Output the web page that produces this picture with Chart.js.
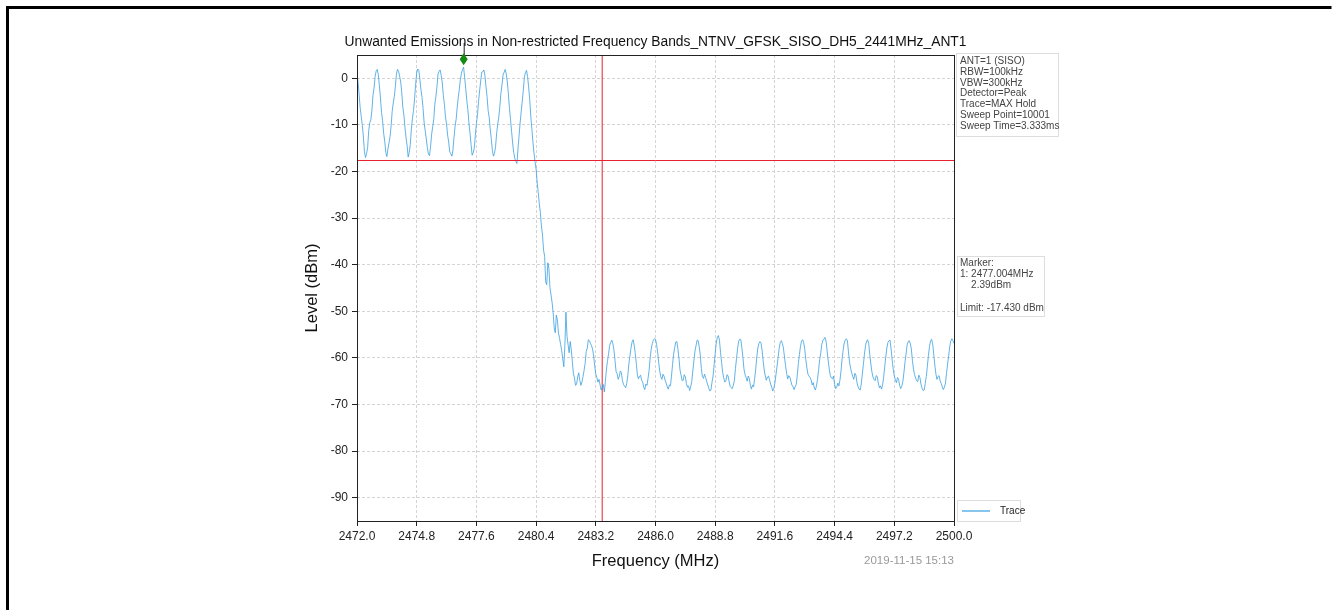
<!DOCTYPE html>
<html>
<head>
<meta charset="utf-8">
<script src="https://cdn.jsdelivr.net/npm/chart.js@4.4.1/dist/chart.umd.min.js"></script>
<style>
  html, body { margin: 0; padding: 0; background: #fff; }
  #wrap { width: 1338px; height: 610px; position: relative; }
</style>
</head>
<body>
<div id="wrap"><canvas id="spec" width="1338" height="610"></canvas></div>
<script>
// sweep grid
const freqStart = 2472.0;
const freqStep = 0.05;

// trace levels (dBm), one row per MHz: x.00 .. x.95
const levelRows = [
  [1.2, -0.9, -3.5, -6.4, -8.2, -10.1, -12.6, -15.8, -17.0, -16.1, -14.8, -11.2, -9.5, -8.9, -6.8, -3.6, -2.1, 0.4, 1.6, 1.9],          // 2472
  [0.8, -1.6, -4.2, -7.3, -9.1, -11.8, -13.5, -15.9, -16.8, -15.2, -13.9, -12.5, -10.2, -7.1, -5.3, -3.9, -1.7, 0.9, 1.9, 1.5],        // 2473
  [0.4, -0.8, -3.1, -6.2, -7.9, -10.6, -12.8, -14.4, -16.9, -15.9, -14.2, -10.9, -8.6, -6.9, -4.4, -1.3, 1.2, 2.0, 1.7, -0.3],         // 2474
  [-2.4, -4.1, -6.5, -9.6, -11.3, -13.0, -14.9, -16.3, -16.6, -14.7, -12.0, -10.4, -8.8, -5.6, -3.9, -1.8, 0.9, 1.5, 1.8, 0.6],        // 2475
  [-1.0, -3.7, -5.6, -8.3, -9.8, -12.2, -13.7, -15.8, -16.2, -16.7, -15.4, -12.7, -10.3, -8.8, -6.2, -4.1, -2.3, -0.2, 1.1, 1.9],      // 2476
  [2.39, 0.1, -2.2, -4.8, -6.7, -9.6, -11.8, -14.2, -16.5, -16.0, -15.0, -12.2, -9.7, -7.9, -5.0, -2.7, -0.6, 1.3, 1.4, 1.8],          // 2477
  [0.6, -1.8, -3.9, -6.9, -8.4, -11.0, -13.1, -15.5, -16.7, -16.1, -14.6, -11.8, -9.9, -8.3, -6.1, -3.2, -1.4, 0.7, 1.3, 1.9],         // 2478
  [0.9, -0.8, -3.3, -6.5, -8.8, -11.4, -13.9, -15.9, -17.2, -17.8, -18.3, -15.2, -12.4, -9.6, -7.2, -4.9, -2.6, 0.2, 1.2, 1.7],        // 2479
  [0.4, -1.9, -4.5, -8.1, -10.8, -13.6, -16.0, -17.9, -19.5, -22.3, -24.5, -26.9, -28.8, -31.7, -33.6, -36.9, -38.2, -43.7, -44.3, -39.6], // 2480
  [-40.8, -44.9, -46.5, -48.1, -50.3, -53.6, -54.6, -50.8, -51.9, -54.7, -55.8, -57.1, -58.4, -60.2, -61.9, -57.3, -50.2, -55.4, -57.2, -58.9], // 2481
  [-56.5, -58.2, -60.8, -63.4, -64.3, -65.9, -65.6, -64.1, -63.2, -64.8, -65.9, -65.2, -64.0, -62.7, -61.2, -58.6, -57.9, -56.1, -56.3, -56.9], // 2482
  [-57.4, -58.1, -59.6, -61.8, -63.5, -64.2, -65.2, -64.6, -65.8, -66.9, -66.4, -65.7, -67.3, -65.0, -62.4, -60.6, -59.1, -57.3, -56.7, -56.2], // 2483
  [-56.9, -58.3, -60.5, -62.9, -63.4, -64.6, -64.0, -62.8, -63.2, -64.9, -65.7, -66.1, -66.4, -65.5, -63.8, -61.3, -59.6, -57.9, -56.6, -56.1], // 2484
  [-57.3, -59.0, -61.2, -63.7, -64.5, -63.9, -63.7, -64.8, -65.2, -66.3, -66.8, -65.6, -65.9, -64.4, -62.7, -60.0, -58.1, -56.9, -56.2, -55.9], // 2485
  [-56.0, -57.1, -58.7, -61.0, -62.9, -64.1, -64.6, -63.5, -63.9, -64.8, -65.4, -66.2, -66.7, -65.8, -66.0, -63.9, -61.4, -59.2, -57.8, -56.6], // 2486
  [-56.5, -58.0, -60.1, -62.6, -63.7, -64.9, -64.8, -63.6, -64.1, -65.5, -66.3, -66.0, -67.0, -66.2, -65.1, -62.8, -60.7, -58.6, -57.4, -56.2], // 2487
  [-56.3, -57.6, -59.4, -62.3, -64.0, -64.4, -63.5, -64.2, -65.0, -65.8, -66.5, -67.1, -66.9, -65.2, -63.9, -61.5, -59.0, -56.8, -55.6, -55.2], // 2488
  [-56.2, -58.8, -61.0, -63.1, -64.3, -65.2, -64.9, -63.6, -63.8, -65.0, -66.1, -66.4, -66.6, -65.9, -64.8, -62.3, -60.1, -58.0, -56.4, -56.0], // 2489
  [-56.1, -57.8, -59.9, -62.4, -63.6, -64.2, -65.0, -63.9, -64.4, -65.9, -66.7, -65.8, -66.2, -64.4, -62.5, -59.8, -57.9, -56.9, -56.5, -56.8], // 2490
  [-58.4, -60.7, -62.6, -63.9, -64.8, -64.1, -63.9, -64.7, -65.6, -66.3, -67.1, -66.5, -65.4, -63.6, -61.8, -59.9, -58.0, -56.7, -56.3, -56.9], // 2491
  [-57.9, -59.8, -61.7, -63.3, -64.5, -63.8, -64.1, -65.0, -65.9, -66.1, -66.8, -66.2, -65.7, -63.7, -61.2, -59.3, -57.5, -56.4, -56.1, -56.7], // 2492
  [-58.2, -60.4, -62.1, -63.5, -63.9, -64.2, -64.7, -65.8, -65.3, -66.5, -66.9, -66.0, -64.6, -62.5, -60.4, -58.9, -57.1, -56.2, -56.0, -55.6], // 2493
  [-56.4, -58.5, -60.6, -62.4, -63.8, -64.3, -64.5, -63.9, -65.7, -66.6, -66.3, -65.4, -66.0, -64.8, -62.9, -60.2, -58.4, -56.8, -56.2, -55.9], // 2494
  [-56.3, -58.7, -60.9, -62.2, -63.2, -64.0, -64.6, -63.3, -63.7, -65.3, -66.2, -66.7, -66.9, -65.6, -63.5, -61.4, -59.2, -57.4, -56.4, -56.1], // 2495
  [-56.9, -59.3, -61.3, -63.0, -64.1, -64.6, -64.9, -63.8, -64.0, -65.4, -66.4, -66.0, -66.7, -65.8, -64.2, -61.9, -59.8, -57.9, -56.7, -56.3], // 2496
  [-56.2, -58.1, -60.4, -62.5, -63.9, -64.7, -65.3, -64.2, -64.6, -65.9, -66.6, -66.1, -65.1, -63.2, -61.0, -59.2, -57.3, -56.5, -56.3, -56.9], // 2497
  [-58.1, -60.6, -62.4, -63.6, -64.3, -64.9, -65.1, -63.7, -64.2, -65.6, -66.5, -67.0, -66.9, -65.5, -64.0, -61.8, -59.5, -57.6, -56.4, -56.0], // 2498
  [-57.0, -59.2, -61.5, -63.4, -64.6, -64.0, -63.8, -64.9, -65.5, -66.2, -66.8, -66.3, -65.4, -63.3, -61.3, -59.5, -57.6, -56.4, -55.9, -56.3], // 2499
  [-56.9]                                                                                                                                      // 2500.00
];

const xTicks = [2472.0, 2474.8, 2477.6, 2480.4, 2483.2, 2486.0, 2488.8, 2491.6, 2494.4, 2497.2, 2500.0];
const yTicks = [0, -10, -20, -30, -40, -50, -60, -70, -80, -90];

const limitLevel = -17.43;
const bandEdge = 2483.5;
const markerFreq = 2477.004;
const markerLevel = 2.39;

const titleText = 'Unwanted Emissions in Non-restricted Frequency Bands_NTNV_GFSK_SISO_DH5_2441MHz_ANT1';
const infoLines = ['ANT=1 (SISO)', 'RBW=100kHz', 'VBW=300kHz', 'Detector=Peak', 'Trace=MAX Hold', 'Sweep Point=10001', 'Sweep Time=3.333ms'];
const markerLines = ['Marker:', '1: 2477.004MHz', '    2.39dBm', '', 'Limit: -17.430 dBm'];
const stampText = '2019-11-15 15:13';

const FONT = "'Liberation Sans', Arial, Helvetica, sans-serif";
const traceColor = '#3a9fe0';
const redColor = '#e8202f';

// build points
const levels = levelRows.flat();
const tracePts = levels.map((v, i) => ({ x: +(freqStart + i * freqStep).toFixed(2), y: v }));

const decor = {
  id: 'decor',
  afterDatasetsDraw(chart) {
    const ctx = chart.ctx;
    const a = chart.chartArea;
    const ys = chart.scales.y;
    // limit line (red, full width)
    const ly = Math.round(ys.getPixelForValue(limitLevel)) + 0.5;
    ctx.save();
    ctx.strokeStyle = redColor;
    ctx.lineWidth = 1;
    ctx.beginPath();
    ctx.moveTo(a.left, ly);
    ctx.lineTo(a.right, ly);
    ctx.stroke();
    ctx.restore();
  },
  afterDraw(chart) {
    const ctx = chart.ctx;
    const a = chart.chartArea;
    const xs = chart.scales.x, ys = chart.scales.y;
    ctx.save();

    // page frame
    ctx.strokeStyle = '#000';
    ctx.lineWidth = 3;
    ctx.beginPath();
    ctx.moveTo(7.5, 612);
    ctx.lineTo(7.5, 7.5);
    ctx.lineTo(1331.5, 7.5);
    ctx.stroke();

    // plot frame
    ctx.strokeStyle = '#222';
    ctx.lineWidth = 1;
    ctx.strokeRect(a.left + 0.5, a.top + 0.5, a.right - a.left, a.bottom - a.top);

    // marker
    const mx = xs.getPixelForValue(markerFreq);
    const my = ys.getPixelForValue(markerLevel) - 8;
    ctx.strokeStyle = '#222';
    ctx.beginPath();
    ctx.moveTo(mx + 0.5, a.top - 12);
    ctx.lineTo(mx + 0.5, my - 4);
    ctx.stroke();
    ctx.fillStyle = '#138a13';
    ctx.beginPath();
    ctx.moveTo(mx, my - 6);
    ctx.lineTo(mx + 4, my);
    ctx.lineTo(mx, my + 6);
    ctx.lineTo(mx - 4, my);
    ctx.closePath();
    ctx.fill();

    // title
    ctx.fillStyle = '#111';
    ctx.font = '13.8px ' + FONT;
    ctx.textAlign = 'center';
    ctx.textBaseline = 'middle';
    ctx.fillText(titleText, (a.left + a.right) / 2, 42);

    // axis titles
    ctx.font = '16.5px ' + FONT;
    ctx.fillText('Frequency (MHz)', (a.left + a.right) / 2, 561);
    ctx.save();
    ctx.translate(312, (a.top + a.bottom) / 2);
    ctx.rotate(-Math.PI / 2);
    ctx.fillText('Level (dBm)', 0, 0);
    ctx.restore();

    // timestamp
    ctx.font = '11.5px ' + FONT;
    ctx.fillStyle = '#999';
    ctx.textAlign = 'right';
    ctx.fillText(stampText, a.right, 561);

    // info boxes
    const box = (x, y, w, h) => {
      ctx.fillStyle = 'rgba(255,255,255,0.9)';
      ctx.fillRect(x, y, w, h);
      ctx.strokeStyle = '#ddd';
      ctx.lineWidth = 1;
      ctx.strokeRect(x + 0.5, y + 0.5, w, h);
    };
    ctx.font = '10px ' + FONT;
    ctx.textAlign = 'left';
    box(956, 53, 102, 83);
    ctx.fillStyle = '#444';
    infoLines.forEach((t, i) => ctx.fillText(t, 960, 61 + i * 10.9));

    box(957, 256, 87, 60);
    ctx.fillStyle = '#444';
    markerLines.forEach((t, i) => ctx.fillText(t, 960, 263 + i * 11.3));

    // legend
    box(957, 500, 63, 21);
    ctx.strokeStyle = traceColor;
    ctx.lineWidth = 1.2;
    ctx.beginPath();
    ctx.moveTo(962, 511);
    ctx.lineTo(990, 511);
    ctx.stroke();
    ctx.fillStyle = '#222';
    ctx.fillText('Trace', 1000, 511);

    ctx.restore();
  }
};

Chart.defaults.font.family = FONT;

new Chart(document.getElementById('spec'), {
  type: 'line',
  data: {
    datasets: [
      {
        label: 'Trace',
        data: tracePts,
        borderColor: traceColor,
        borderWidth: 0.8,
        pointRadius: 0,
        fill: false,
        tension: 0
      },
      {
        label: 'Band edge',
        data: [{ x: bandEdge, y: -95 }, { x: bandEdge, y: 5 }],
        borderColor: redColor,
        backgroundColor: redColor,
        borderWidth: 1,
        fill: false,
        pointRadius: 0
      }
    ]
  },
  options: {
    responsive: false,
    animation: false,
    layout: { padding: { left: 290, right: 384, top: 55, bottom: 0 } },
    plugins: {
      legend: { display: false },
      title: { display: false },
      tooltip: { enabled: false }
    },
    scales: {
      x: {
        type: 'linear',
        min: 2472,
        max: 2500,
        afterBuildTicks: s => { s.ticks = xTicks.map(v => ({ value: v })); },
        afterFit: s => { s.height = 89; },
        ticks: {
          color: '#222',
          font: { size: 12 },
          padding: 3,
          maxRotation: 0,
          autoSkip: false,
          callback: v => Number(v).toFixed(1)
        },
        grid: { color: '#d4d4d4', tickColor: '#222', tickLength: 5, lineWidth: 1 },
        border: { display: false, dash: [3, 2] }
      },
      y: {
        type: 'linear',
        min: -95,
        max: 5,
        afterBuildTicks: s => { s.ticks = yTicks.map(v => ({ value: v })); },
        afterFit: s => { s.width = 67; },
        ticks: {
          color: '#222',
          font: { size: 12 },
          padding: 4,
          autoSkip: false,
          callback: v => String(v)
        },
        grid: { color: '#d4d4d4', tickColor: '#222', tickLength: 5, lineWidth: 1 },
        border: { display: false, dash: [3, 2] }
      }
    }
  },
  plugins: [decor]
});
</script>
</body>
</html>
